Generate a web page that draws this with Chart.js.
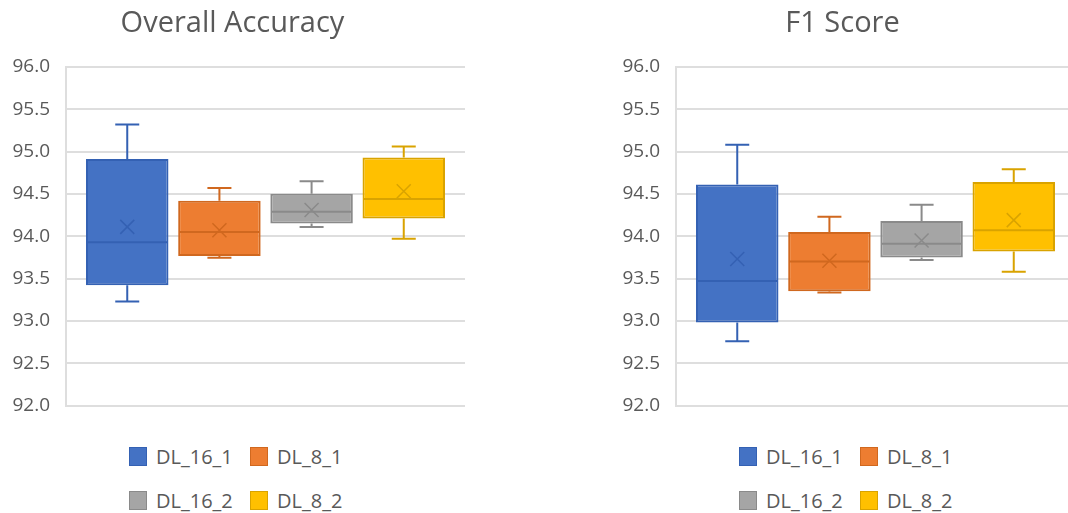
<!DOCTYPE html>
<html>
<head>
<meta charset="utf-8">
<script src="https://cdn.jsdelivr.net/npm/chart.js@4"></script>
<style>
  html, body { margin: 0; padding: 0; background: #fff; overflow: hidden; }
  body { width: 1068px; height: 513px; position: relative; font-family: "Open Sans", sans-serif; }
  .panel { position: absolute; top: 0; width: 475px; height: 513px; }
  .panel .plot { position: absolute; left: 0; top: 0; width: 475px; height: 433px; }
  .legend { position: absolute; left: 129px; top: 443px; width: 260px; }
  .legend .item { position: absolute; display: flex; align-items: center; font-size: 20px; color: #595959; white-space: nowrap; }
  .legend .swatch { width: 16px; height: 17px; border: 1.5px solid; margin-right: 9px; }
</style>
</head>
<body>
<div class="panel" style="left:0px"><div class="plot"><canvas id="oa"></canvas></div><div class="legend" id="legend-oa"></div></div>
<div class="panel" style="left:610px"><div class="plot"><canvas id="f1"></canvas></div><div class="legend" id="legend-f1"></div></div>
<script>
// Series shown in both panels
const seriesNames = ['DL_16_1', 'DL_8_1', 'DL_16_2', 'DL_8_2'];
const fillColors = ['#4472C4', '#ED7D31', '#A5A5A5', '#FFC000'];
const lineColors = ['#3461B3', '#D0681F', '#8A8A8A', '#D9A300'];

// Overall Accuracy (%) five-number summaries and means
const oaMin    = [93.23, 93.745, 94.11, 93.97];
const oaQ1     = [93.42, 93.765, 94.15, 94.21];
const oaMedian = [93.93, 94.05, 94.29, 94.44];
const oaQ3     = [94.91, 94.42, 94.50, 94.93];
const oaMax    = [95.32, 94.57, 94.65, 95.06];
const oaMean   = [94.11, 94.07, 94.31, 94.53];

// F1 Score (%) five-number summaries and means
const f1Min    = [92.76, 93.335, 93.72, 93.58];
const f1Q1     = [92.98, 93.35, 93.75, 93.82];
const f1Median = [93.47, 93.70, 93.91, 94.07];
const f1Q3     = [94.61, 94.05, 94.18, 94.64];
const f1Max    = [95.08, 94.23, 94.37, 94.79];
const f1Mean   = [93.73, 93.71, 93.95, 94.19];

// Value axis
const yMin = 92.0, yMax = 96.0, yStep = 0.5;

// Draws whiskers, caps, median line and mean cross on top of each floating bar
const boxPlotPlugin = {
  id: 'boxPlot',
  afterDatasetsDraw(chart) {
    const ctx = chart.ctx;
    const y = chart.scales.y;
    const stats = chart.options.plugins.boxPlot;
    chart.data.datasets.forEach((ds, i) => {
      const meta = chart.getDatasetMeta(i);
      const bar = meta.data[0];
      if (!bar) return;
      const x = bar.x;
      const half = bar.width / 2;
      const col = lineColors[i];
      const pMin = y.getPixelForValue(stats.min[i]);
      const pQ1 = y.getPixelForValue(stats.q1[i]);
      const pQ3 = y.getPixelForValue(stats.q3[i]);
      const pMax = y.getPixelForValue(stats.max[i]);
      const pMed = y.getPixelForValue(stats.median[i]);
      const pMean = y.getPixelForValue(stats.mean[i]);
      const cap = 12;
      ctx.save();
      ctx.strokeStyle = col;
      ctx.lineWidth = 2;
      ctx.beginPath();
      // upper whisker
      ctx.moveTo(x, pQ3); ctx.lineTo(x, pMax);
      ctx.moveTo(x - cap, pMax); ctx.lineTo(x + cap, pMax);
      // lower whisker
      ctx.moveTo(x, pQ1); ctx.lineTo(x, pMin);
      ctx.moveTo(x - cap, pMin); ctx.lineTo(x + cap, pMin);
      // median
      ctx.moveTo(x - half + 1, pMed); ctx.lineTo(x + half - 1, pMed);
      ctx.stroke();
      // mean marker
      const m = 7;
      ctx.lineWidth = 1.5;
      ctx.beginPath();
      ctx.moveTo(x - m, pMean - m); ctx.lineTo(x + m, pMean + m);
      ctx.moveTo(x + m, pMean - m); ctx.lineTo(x - m, pMean + m);
      ctx.stroke();
      ctx.restore();
    });
  }
};

function buildChart(canvasId, title, mins, q1s, medians, q3s, maxs, means) {
  const datasets = seriesNames.map((name, i) => ({
    label: name,
    data: [[q1s[i], q3s[i]]],
    backgroundColor: fillColors[i],
    borderColor: lineColors[i],
    borderWidth: 2,
    borderSkipped: false,
    categoryPercentage: 0.924,
    barPercentage: 0.895
  }));
  return new Chart(document.getElementById(canvasId), {
    type: 'bar',
    data: { labels: [title], datasets },
    plugins: [boxPlotPlugin],
    options: {
      responsive: true,
      maintainAspectRatio: false,
      animation: false,
      layout: { padding: { left: 0, right: 10, top: 0, bottom: 17 } },
      plugins: {
        legend: { display: false },
        tooltip: { enabled: false },
        title: {
          display: true,
          text: title,
          color: '#595959',
          font: { family: 'Open Sans', size: 29, weight: 'normal', lineHeight: 1.2 },
          padding: { top: 6, bottom: 26 }
        },
        boxPlot: { min: mins, q1: q1s, median: medians, q3: q3s, max: maxs, mean: means }
      },
      scales: {
        x: { display: false },
        y: {
          min: yMin,
          max: yMax,
          ticks: {
            stepSize: yStep,
            padding: 16,
            color: '#595959',
            font: { family: 'Open Sans', size: 19 },
            callback: v => Number(v).toFixed(1)
          },
          grid: { color: '#DEDEDE', lineWidth: 2, drawTicks: false },
          border: { display: true, color: '#DEDEDE', width: 2 },
          afterFit(scale) { scale.width = 66; }
        }
      }
    }
  });
}

function buildLegend(id) {
  const host = document.getElementById(id);
  const cols = [0, 121];
  const rows = [0, 44];
  seriesNames.forEach((name, i) => {
    const item = document.createElement('div');
    item.className = 'item';
    item.style.left = cols[i % 2] + 'px';
    item.style.top = rows[Math.floor(i / 2)] + 'px';
    const sw = document.createElement('span');
    sw.className = 'swatch';
    sw.style.background = fillColors[i];
    sw.style.borderColor = lineColors[i];
    const tx = document.createElement('span');
    tx.textContent = name;
    item.appendChild(sw);
    item.appendChild(tx);
    host.appendChild(item);
  });
}

buildChart('oa', 'Overall Accuracy', oaMin, oaQ1, oaMedian, oaQ3, oaMax, oaMean);
buildChart('f1', 'F1 Score', f1Min, f1Q1, f1Median, f1Q3, f1Max, f1Mean);
buildLegend('legend-oa');
buildLegend('legend-f1');
</script>
</body>
</html>
